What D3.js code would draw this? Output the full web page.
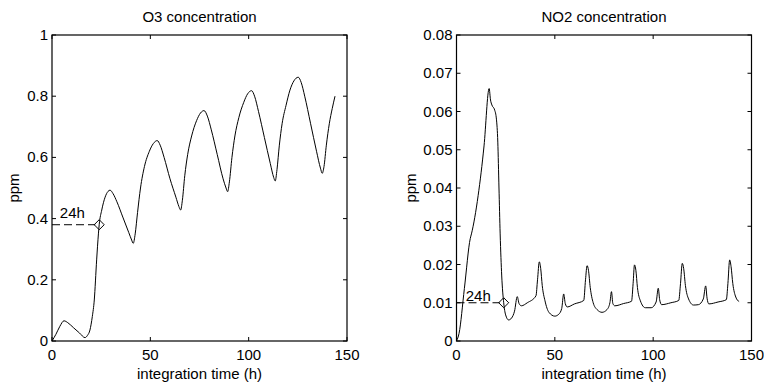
<!DOCTYPE html>
<html>
<head>
<meta charset="utf-8">
<style>
body { margin: 0; background: #fff; }
svg text { font-family: "Liberation Sans", Arial, sans-serif; fill: #000; }
</style>
</head>
<body>
<svg width="764" height="386" id="chart"></svg>
<script src="https://cdn.jsdelivr.net/npm/d3@7"></script>
<script>
// O3 series (hours, ppm)
var o3Time = [0, 2, 4, 6.1, 8, 11, 14, 16.8, 18, 19.3, 20.5, 21.5, 22.7, 23.6, 24,
  25.3, 27, 28.5, 29.5, 31, 33, 36, 39, 40.5, 41.3, 42.3, 43.5, 45, 47, 49.5, 51.5, 53.5,
  55, 57, 60, 63, 64.5, 65.4, 66.3, 67.5, 69, 71, 73.5, 75.5, 77.3, 79, 81, 84, 87, 88.5,
  89.3, 90.2, 91.5, 93, 95, 97.5, 99.5, 101.5, 103, 105, 108, 111, 112.7, 113.5, 114.4,
  115.6, 117, 119, 121, 123, 125.2, 126.7, 128.5, 131.5, 134.5, 136.5, 137.4, 138.3,
  139.5, 141, 142.5, 143.9];
var o3Value = [0, 0.022, 0.048, 0.066, 0.06, 0.043, 0.026, 0.011, 0.018, 0.036, 0.08,
  0.134, 0.265, 0.35, 0.38, 0.428, 0.47, 0.489, 0.493, 0.482, 0.455, 0.405, 0.355, 0.33,
  0.319, 0.35, 0.42, 0.5, 0.57, 0.62, 0.645, 0.655, 0.64, 0.6, 0.53, 0.47, 0.44, 0.428,
  0.46, 0.54, 0.61, 0.67, 0.72, 0.745, 0.753, 0.735, 0.69, 0.61, 0.53, 0.5, 0.488, 0.52,
  0.6, 0.67, 0.73, 0.78, 0.808, 0.818, 0.8, 0.75, 0.665, 0.58, 0.535, 0.523, 0.56, 0.64,
  0.71, 0.77, 0.82, 0.85, 0.862, 0.845, 0.8, 0.71, 0.62, 0.565, 0.548, 0.57, 0.64, 0.71,
  0.76, 0.8];

// NO2 series (hours, ppm)
var no2Time = [0, 1.3, 4, 7, 7.6, 11, 14, 16.6, 17.3, 18, 19.4, 20.3, 21, 21.6, 22.2, 23,
  24, 25, 26.5, 28, 29.5, 30.9, 31.8, 33, 36, 40.4, 41.2, 42.1, 42.8, 43.6, 45, 47, 50,
  52, 53.5, 54.5, 55.3, 56.3, 60, 64.7, 65.6, 66.4, 67.1, 68, 69.5, 71.5, 74, 76.5, 78,
  78.8, 79.5, 80.5, 85, 89, 89.8, 90.5, 91.2, 92, 93.5, 96, 99, 101.5, 102.6, 103.3,
  104.3, 109, 113, 113.9, 114.8, 115.5, 116.4, 118, 120.5, 123, 125.5, 126.7, 127.4,
  128.3, 133, 137.2, 138, 138.9, 139.6, 140.5, 142, 143.7];
var no2Value = [0, 0.002, 0.0137, 0.0268, 0.028, 0.038, 0.051, 0.066, 0.063, 0.0617,
  0.0604, 0.058, 0.052, 0.04, 0.028, 0.017, 0.01, 0.0068, 0.0055, 0.006, 0.0078, 0.0116,
  0.0098, 0.0092, 0.01, 0.0118, 0.016, 0.0207, 0.019, 0.0145, 0.0105, 0.0075, 0.0065,
  0.007, 0.0085, 0.0123, 0.0098, 0.0089, 0.0097, 0.0106, 0.016, 0.0197, 0.0185, 0.014,
  0.01, 0.0082, 0.0075, 0.0082, 0.01, 0.0129, 0.0098, 0.0092, 0.0098, 0.0104, 0.015,
  0.0199, 0.0185, 0.014, 0.0105, 0.0087, 0.0087, 0.0102, 0.0138, 0.0108, 0.0095, 0.01,
  0.0106, 0.015, 0.0203, 0.019, 0.0145, 0.011, 0.0094, 0.0095, 0.011, 0.0144, 0.0112,
  0.0097, 0.0102, 0.0108, 0.015, 0.0212, 0.0195, 0.015, 0.0115, 0.0103];

var xTicks = [0, 50, 100, 150];
var o3Ticks = [0, 0.2, 0.4, 0.6, 0.8, 1];
var no2Ticks = [0, 0.01, 0.02, 0.03, 0.04, 0.05, 0.06, 0.07, 0.08];

// 24h markers: [time, value], label at [time, value]
var o3Mark = [24, 0.38], o3MarkLabel = [4, 0.402];
var no2Mark = [24, 0.01], no2MarkLabel = [4.7, 0.01046];

var svg = d3.select("#chart");
var fs = "15px";

function panel(opt) {
  var x = d3.scaleLinear().domain([0, 150]).range([opt.left, opt.right]);
  var y = d3.scaleLinear().domain(opt.yDomain).range([341, 35]);
  var g = svg.append("g");

  // box
  g.append("rect")
    .attr("x", x(0)).attr("y", y(opt.yDomain[1]))
    .attr("width", x(150) - x(0)).attr("height", y(opt.yDomain[0]) - y(opt.yDomain[1]))
    .attr("fill", "none").attr("stroke", "#000").attr("stroke-width", 1.2);

  // inward ticks all round
  var tl = 4;
  xTicks.forEach(function(t) {
    g.append("line").attr("x1", x(t)).attr("x2", x(t))
      .attr("y1", y.range()[0]).attr("y2", y.range()[0] - tl).attr("stroke", "#000");
    g.append("line").attr("x1", x(t)).attr("x2", x(t))
      .attr("y1", y.range()[1]).attr("y2", y.range()[1] + tl).attr("stroke", "#000");
    g.append("text").attr("x", x(t)).attr("y", 360)
      .attr("text-anchor", "middle").style("font-size", fs).text(t);
  });
  opt.yTicks.forEach(function(v) {
    g.append("line").attr("x1", x(0)).attr("x2", x(0) + tl)
      .attr("y1", y(v)).attr("y2", y(v)).attr("stroke", "#000");
    g.append("line").attr("x1", x(150)).attr("x2", x(150) - tl)
      .attr("y1", y(v)).attr("y2", y(v)).attr("stroke", "#000");
    g.append("text").attr("x", x(0) - 4).attr("y", y(v) + 5)
      .attr("text-anchor", "end").style("font-size", fs).text(opt.fmt(v));
  });

  // series
  var pts = opt.time.map(function(t, i) { return [t, opt.value[i]]; });
  var line = d3.line().x(function(d) { return x(d[0]); }).y(function(d) { return y(d[1]); })
    .curve(d3.curveMonotoneX);
  g.append("path").datum(pts).attr("d", line)
    .attr("fill", "none").attr("stroke", "#000").attr("stroke-width", 1);

  // 24h marker
  g.append("line").attr("x1", x(0)).attr("x2", x(opt.mark[0]) - 4)
    .attr("y1", y(opt.mark[1])).attr("y2", y(opt.mark[1]))
    .attr("stroke", "#000").attr("stroke-dasharray", "8,4");
  g.append("path")
    .attr("d", d3.symbol().type(d3.symbolDiamond2).size(64)())
    .attr("transform", "translate(" + x(opt.mark[0]) + "," + y(opt.mark[1]) + ")")
    .attr("fill", "none").attr("stroke", "#000");
  g.append("text").attr("x", x(opt.markLabel[0])).attr("y", y(opt.markLabel[1]))
    .style("font-size", fs).text("24h");

  // titles
  g.append("text").attr("x", (x(0) + x(150)) / 2).attr("y", 22)
    .attr("text-anchor", "middle").style("font-size", fs).text(opt.title);
  g.append("text").attr("x", (x(0) + x(150)) / 2).attr("y", 379)
    .attr("text-anchor", "middle").style("font-size", fs).text("integration time (h)");
  g.append("text")
    .attr("transform", "translate(" + opt.ylabX + "," + (y.range()[0] + y.range()[1]) / 2 + ") rotate(-90)")
    .attr("text-anchor", "middle").style("font-size", fs).text("ppm");
}

panel({ left: 52, right: 347, yDomain: [0, 1], yTicks: o3Ticks,
  fmt: function(v) { return String(v); },
  time: o3Time, value: o3Value, mark: o3Mark, markLabel: o3MarkLabel,
  title: "O3 concentration", ylabX: 19 });

panel({ left: 456.5, right: 751.5, yDomain: [0, 0.08], yTicks: no2Ticks,
  fmt: function(v) { return v === 0 ? "0" : d3.format(".2f")(v); },
  time: no2Time, value: no2Value, mark: no2Mark, markLabel: no2MarkLabel,
  title: "NO2 concentration", ylabX: 416 });
</script>
</body>
</html>
